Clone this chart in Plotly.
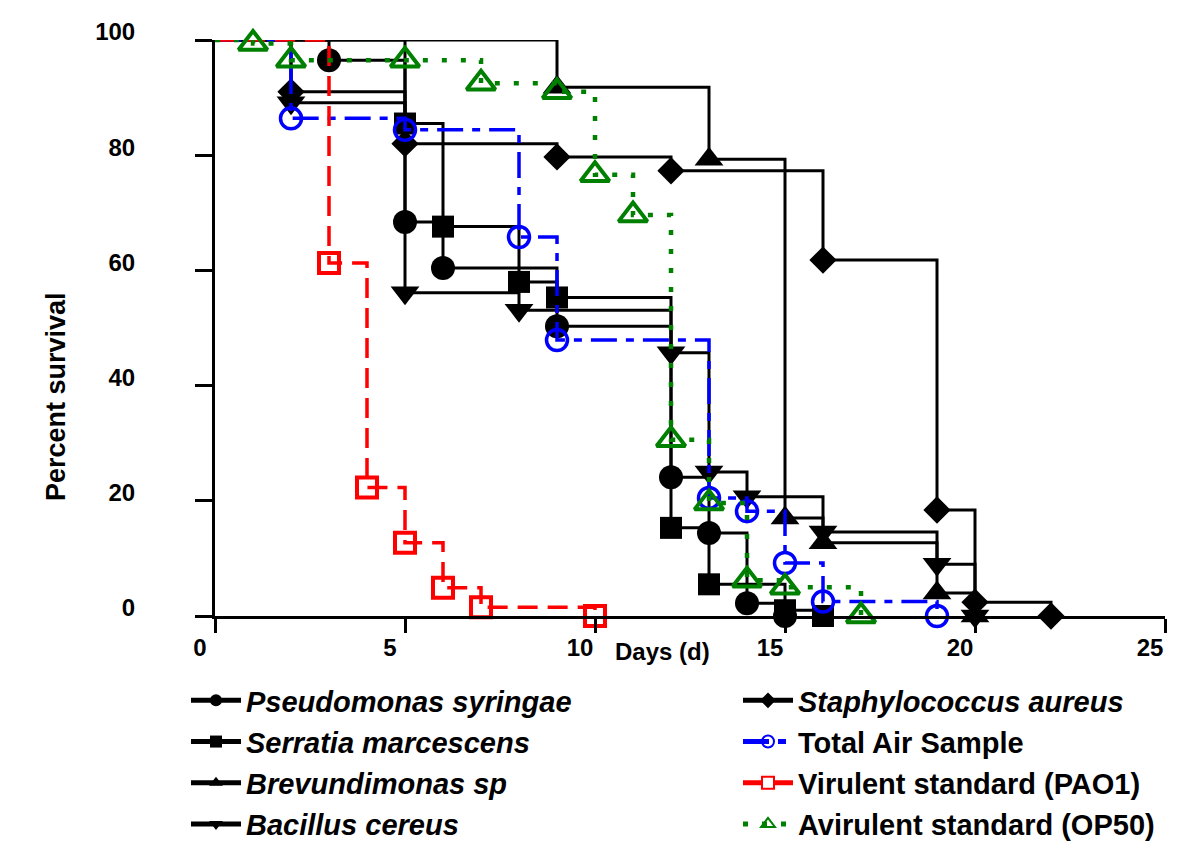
import plotly.graph_objects as go

# ---------------- data ----------------
pseudomonas_days = [0, 3, 5, 6, 9, 12, 13, 14, 15]
pseudomonas_surv = [100, 96.5, 68.4, 60.4, 50.3, 24.1, 14.4, 2.2, 0]

serratia_days = [0, 5, 6, 8, 9, 12, 13, 15, 16]
serratia_surv = [100, 85.5, 67.6, 58.0, 55.3, 15.3, 5.5, 1.0, 0]

brevundimonas_days = [0, 9, 13, 15, 16, 19, 20]
brevundimonas_surv = [100, 91.8, 79.3, 17.0, 12.7, 4.0, 0]

bacillus_days = [0, 2, 5, 8, 12, 13, 14, 16, 19, 20]
bacillus_surv = [100, 89.1, 56.1, 53.1, 45.7, 25.0, 20.7, 14.6, 9.0, 0]

staph_days = [0, 2, 5, 9, 12, 16, 19, 20, 22]
staph_surv = [100, 91.0, 82.0, 79.7, 77.3, 61.8, 18.4, 2.4, 0]

air_days = [0, 2, 5, 8, 9, 13, 14, 15, 16, 19]
air_surv = [100, 86.4, 84.4, 65.8, 47.9, 20.5, 18.2, 9.2, 2.5, 0]

pao1_days = [0, 3, 4, 5, 6, 7, 10]
pao1_surv = [100, 61.3, 22.3, 12.7, 4.9, 1.5, 0]

op50_days = [0, 1, 2, 5, 7, 9, 10, 11, 12, 13, 14, 15, 17]
op50_surv = [100, 99.4, 96.5, 96.5, 92.5, 91.0, 76.6, 69.6, 30.6, 19.6, 6.2, 5.0, 0]

x_tick_vals = [0, 5, 10, 15, 20, 25]
y_tick_vals = [0, 20, 40, 60, 80, 100]

x_title = "Days (d)"
y_title = "Percent survival"

# ---------------- figure geometry ----------------
W, H = 1200, 849
OFF = 8  # page body margin of the html page
L, R, T, B = 215 - OFF, 43, 40 - OFF, 241
PW, PH = W - L - R, H - T - B
FONT = "Liberation Sans, Arial, sans-serif"


def px_x(p):
    """screen x pixel -> paper fraction"""
    return (p - OFF - L) / PW


def px_y(p):
    """screen y pixel -> paper fraction"""
    return (T + PH - (p - OFF)) / PH


series = [
    dict(name="<b><i>Pseudomonas syringae</i></b>", d=pseudomonas_days, s=pseudomonas_surv,
         sym="circle", size=24, color="black", dash="solid", lw=3, mlw=0, leg="legend"),
    dict(name="<b><i>Serratia marcescens</i></b>", d=serratia_days, s=serratia_surv,
         sym="square", size=22, color="black", dash="solid", lw=3, mlw=0, leg="legend"),
    dict(name="<b><i>Brevundimonas sp</i></b>", d=brevundimonas_days, s=brevundimonas_surv,
         sym="triangle-up", size=25, color="black", dash="solid", lw=3, mlw=0, leg="legend"),
    dict(name="<b><i>Bacillus cereus</i></b>", d=bacillus_days, s=bacillus_surv,
         sym="triangle-down", size=25, color="black", dash="solid", lw=3, mlw=0, leg="legend"),
    dict(name="<b><i>Staphylococcus aureus</i></b>", d=staph_days, s=staph_surv,
         sym="diamond", size=21, color="black", dash="solid", lw=3, mlw=0, leg="legend2"),
    dict(name="<b>Total Air Sample</b>", d=air_days, s=air_surv,
         sym="circle-open", size=21, color="#0000ff", dash="26px,9px,8px,9px", lw=3.5, mlw=3.5, leg="legend2"),
    dict(name="<b>Virulent standard (PAO1)</b>", d=pao1_days, s=pao1_surv,
         sym="square-open", size=20, color="#ff0000", dash="20px,10px", lw=3.5, mlw=4, leg="legend2"),
    dict(name="<b>Avirulent standard (OP50)</b>", d=op50_days, s=op50_surv,
         sym="triangle-up-open", size=25, color="#008000", dash="5px,14px", lw=4.5, mlw=4, leg="legend2"),
]

fig = go.Figure()
for sr in series:
    sizes = [0] + [sr["size"]] * (len(sr["d"]) - 1)
    fig.add_trace(go.Scatter(
        x=sr["d"], y=sr["s"], name=sr["name"], mode="lines+markers",
        line=dict(shape="hv", color=sr["color"], width=sr["lw"], dash=sr["dash"]),
        marker=dict(symbol=sr["sym"], size=sizes, color=sr["color"], opacity=1,
                    line=dict(width=sr["mlw"], color=sr["color"])),
        cliponaxis=False, legend=sr["leg"], legendgroup=sr["name"],
    ))

legend_common = dict(
    xref="container", yref="container", xanchor="left", yanchor="top",
    bgcolor="rgba(0,0,0,0)", borderwidth=0, itemsizing="constant", itemwidth=50,
    tracegroupgap=0.5, font=dict(family=FONT, size=29, color="black"),
    orientation="v",
)

fig.update_layout(
    width=W, height=H,
    margin=dict(l=L, r=R, t=T, b=B, pad=0, autoexpand=False),
    paper_bgcolor="white", plot_bgcolor="white",
    font=dict(family=FONT, color="black"),
    showlegend=True,
    legend=dict(x=178 / W, y=1 - 667 / H, **legend_common),
    legend2=dict(x=730 / W, y=1 - 667 / H, **legend_common),
    xaxis=dict(
        range=[0, 25], tickvals=x_tick_vals, ticktext=[str(v) for v in x_tick_vals],
        showline=True, linecolor="black", linewidth=3, showgrid=False, zeroline=False,
        ticks="outside", ticklen=14, tickwidth=3, tickcolor="black",
        tickfont=dict(family=FONT, size=24, color="black", weight="bold"),
        ticklabelshift=-15, ticklabelstandoff=-6,
    ),
    yaxis=dict(
        range=[0, 100], tickvals=y_tick_vals, ticktext=[str(v) for v in y_tick_vals],
        showline=True, linecolor="black", linewidth=3, showgrid=False, zeroline=False,
        ticks="outside", ticklen=17, tickwidth=3, tickcolor="black",
        tickfont=dict(family=FONT, size=24, color="black", weight="bold"),
        ticklabelshift=-8, ticklabelstandoff=55,
    ),
    annotations=[
        dict(text=f"<b>{y_title}</b>", xref="paper", yref="paper",
             x=px_x(56), y=px_y(397), showarrow=False, textangle=-90,
             font=dict(family=FONT, size=27, color="black"),
             xanchor="center", yanchor="middle"),
        dict(text=f"<b>{x_title}</b>", xref="paper", yref="paper",
             x=px_x(662), y=px_y(651), showarrow=False,
             font=dict(family=FONT, size=24, color="black"),
             xanchor="center", yanchor="middle"),
    ],
)

fig.write_html("out.html")
